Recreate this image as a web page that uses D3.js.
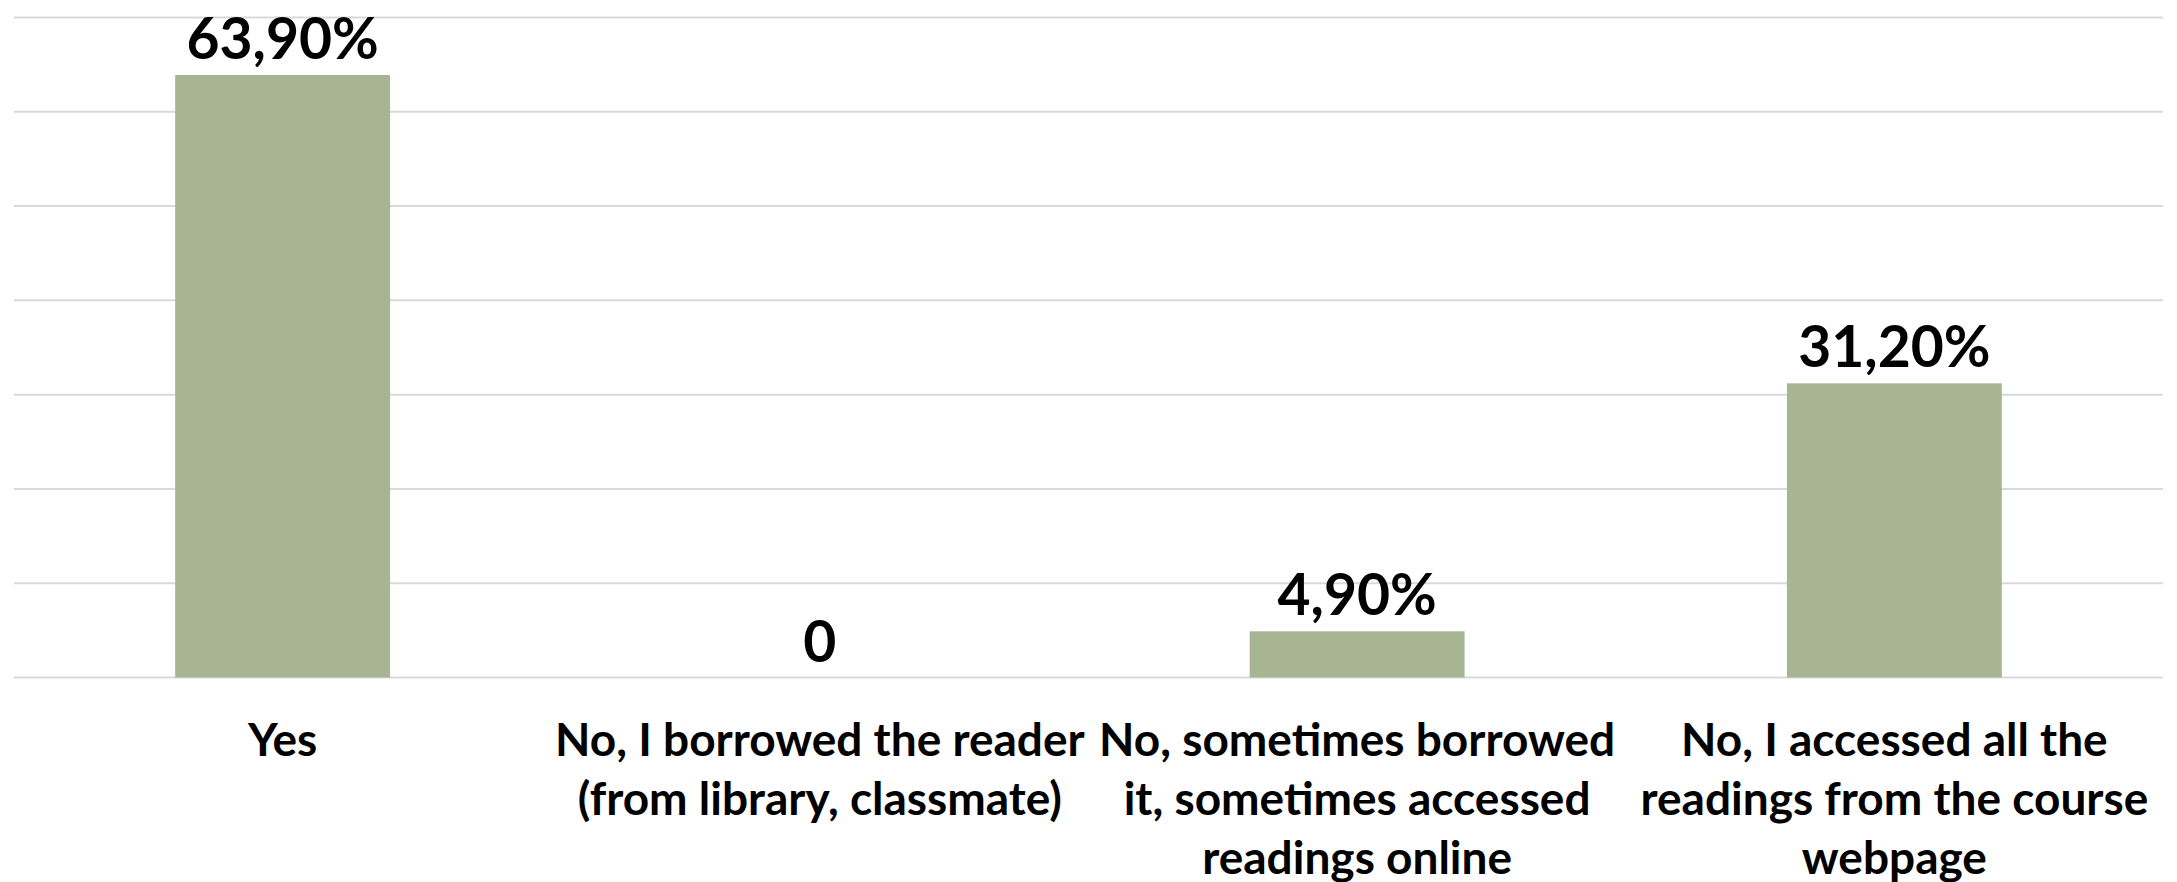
<!DOCTYPE html>
<html lang="en">
<head>
  <meta charset="UTF-8">
  <title>Reader access</title>
  <script src="https://d3js.org/d3.v7.min.js"></script>
  <style>
    body {
      margin: 0;
      background: white;
    }
    text {
      font-family: Lato, "Open Sans", sans-serif;
      font-weight: bold;
      fill: black;
    }
  </style>
</head>
<body>
  <script>
    // categories (line breaks as in the original chart)
    const categories = [
      "Yes",
      "No, I borrowed the reader\n(from library, classmate)",
      "No, sometimes borrowed\nit, sometimes accessed\nreadings online",
      "No, I accessed all the\nreadings from the course\nwebpage"
    ];
    const values = [63.9, 0, 4.9, 31.2];
    const yTicks = [0, 10, 20, 30, 40, 50, 60, 70];

    const width = 2177;
    const height = 882;
    const margin = { top: 17.5, right: 14, bottom: 204.5, left: 14 };

    const svg = d3.select("body").append("svg")
      .attr("width", width)
      .attr("height", height);

    const x = d3.scaleBand()
      .domain(categories)
      .range([margin.left, width - margin.right])
      .paddingInner(0.6)
      .paddingOuter(0.3);

    const y = d3.scaleLinear()
      .domain([0, 70])
      .range([height - margin.bottom, margin.top]);

    // gridlines
    svg.append("g")
      .selectAll("line")
      .data(yTicks)
      .enter().append("line")
      .attr("x1", margin.left)
      .attr("x2", width - margin.right)
      .attr("y1", d => y(d))
      .attr("y2", d => y(d))
      .attr("stroke", "#d9d9d9")
      .attr("stroke-width", 2);

    // bars
    svg.append("g")
      .selectAll("rect")
      .data(values)
      .enter().append("rect")
      .attr("x", (d, i) => x(categories[i]))
      .attr("y", d => y(d))
      .attr("width", x.bandwidth())
      .attr("height", d => y(0) - y(d))
      .attr("fill", "#a7b592");

    // value labels
    const fmt = v => v === 0 ? "0" : d3.format(".2f")(v).replace(".", ",") + "%";
    svg.append("g")
      .selectAll("text")
      .data(values)
      .enter().append("text")
      .attr("x", (d, i) => x(categories[i]) + x.bandwidth() / 2)
      .attr("y", d => y(d) - 16)
      .attr("text-anchor", "middle")
      .style("font-size", "57px")
      .text(fmt);

    // category labels
    const xAxis = svg.append("g");
    categories.forEach(c => {
      const t = xAxis.append("text")
        .attr("x", x(c) + x.bandwidth() / 2)
        .attr("y", y(0) + 78)
        .attr("text-anchor", "middle")
        .style("font-size", "46px");
      c.split("\n").forEach((line, j) => {
        t.append("tspan")
          .attr("x", x(c) + x.bandwidth() / 2)
          .attr("dy", j === 0 ? 0 : 59)
          .text(line);
      });
    });
  </script>
</body>
</html>
